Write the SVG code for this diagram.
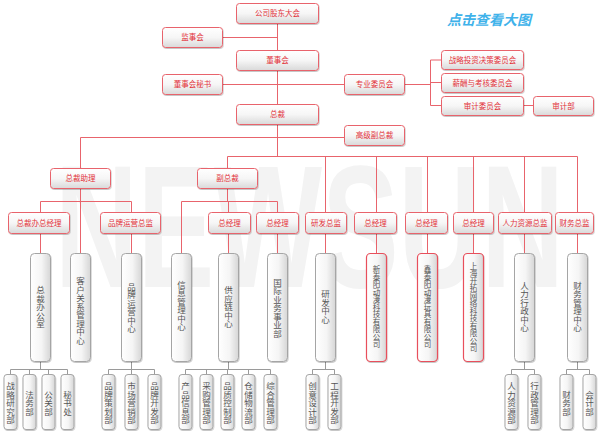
<svg xmlns="http://www.w3.org/2000/svg" width="600" height="432" viewBox="0 0 600 432">
<defs>
<linearGradient id="g" x1="0" y1="0" x2="0" y2="1"><stop offset="0" stop-color="#ffffff"/><stop offset="0.5" stop-color="#f6f6f6"/><stop offset="1" stop-color="#d9d9d9"/></linearGradient>
<linearGradient id="g2" x1="0" y1="0" x2="1" y2="0"><stop offset="0" stop-color="#ffffff"/><stop offset="0.55" stop-color="#f5f5f5"/><stop offset="1" stop-color="#d6d6d6"/></linearGradient>
<filter id="sh" x="-20%" y="-20%" width="140%" height="140%"><feDropShadow dx="0.6" dy="1" stdDeviation="0.7" flood-color="#000" flood-opacity="0.22"/></filter>
<style>
.rb{fill:url(#g);stroke:#e8646c;stroke-width:1;filter:url(#sh)}
.rv{fill:url(#g2);stroke:#e8505c;stroke-width:1.2;filter:url(#sh)}
.gb{fill:url(#g2);stroke:#a5a5a5;stroke-width:1;filter:url(#sh)}
.rt{font-family:"Noto Sans CJK SC","Noto Sans",sans-serif;font-size:7.5px;fill:#e2323a;text-anchor:middle}
.vt{font-family:"Noto Sans CJK SC","Noto Sans",sans-serif;font-size:8.5px;fill:#555;text-anchor:middle;writing-mode:vertical-rl}
.vs{font-size:7.5px}
.ln{stroke:#e8646c;stroke-width:1;fill:none}
.lg{stroke:#9a9a9a;stroke-width:1;fill:none}
</style>
</defs>
<rect width="600" height="432" fill="#ffffff"/>
<text x="55" y="287" font-family="Liberation Sans,Arial,sans-serif" font-weight="bold" font-size="175" fill="#f3f3f3" textLength="509" lengthAdjust="spacingAndGlyphs">NEWSUN</text>
<text x="489" y="25" font-family="Noto Sans CJK SC,sans-serif" font-weight="bold" font-style="italic" font-size="14" fill="#3fb2ea" text-anchor="middle">点击查看大图</text>

<g id="connectors">
<path class="ln" d="M277.5 23V104M222 37.5H277.5M222 84.5H344M404 84.5H430.5M430.5 60V105.5M430.5 60H441M430.5 82.5H441M430.5 105.5H441M523 105.5H533"/>
<path class="ln" d="M277.5 124V156.5M80.5 137.5H344M80.5 137.5V168M227.5 156.5H577.5M227.5 156.5V168M325.5 156.5V253M376.5 156.5V253M427.5 156.5V253M473.5 156.5V253M524.5 156.5V253M577.5 156.5V253"/>
<path class="ln" d="M80.5 188V253M40.5 201.5H131.5M40.5 201.5V212M131.5 201.5V212M40.5 233V253M131.5 233V253"/>
<path class="ln" d="M227.5 188V201.5M181.5 201.5H277.5M181.5 201.5V253M228.5 201.5V212M277.5 201.5V212M228.5 233V253M277.5 233V253"/>
<path class="lg" d="M40.5 361V369.5M10.5 369.5H67.5M10.5 369.5V374M29.5 369.5V374M48.5 369.5V374M67.5 369.5V374"/>
<path class="lg" d="M131.5 361V369.5M108.5 369.5H154.5M108.5 369.5V374M131.5 369.5V374M154.5 369.5V374"/>
<path class="lg" d="M228.5 361V369.5M185.5 369.5H270.5M185.5 369.5V374M206.5 369.5V374M227.5 369.5V374M248.5 369.5V374M270.5 369.5V374"/>
<path class="lg" d="M325.5 361V369.5M312.5 369.5H334.5M312.5 369.5V374M334.5 369.5V374"/>
<path class="lg" d="M524.5 361V369.5M511.5 369.5H534.5M511.5 369.5V374M534.5 369.5V374"/>
<path class="lg" d="M577.5 361V369.5M566.5 369.5H589.5M566.5 369.5V374M589.5 369.5V374"/>
</g>

<g id="n-gdh"><rect class="rb" x="236.5" y="3.5" width="82" height="20" rx="3"/><text class="rt" x="277.5" y="16.3">公司股东大会</text></g>
<g id="n-jsh"><rect class="rb" x="162.5" y="27.5" width="60" height="20" rx="3"/><text class="rt" x="192.5" y="40.3">监事会</text></g>
<g id="n-dsh"><rect class="rb" x="236.5" y="50.5" width="82" height="20" rx="3"/><text class="rt" x="277.5" y="63.3">董事会</text></g>
<g id="n-dshms"><rect class="rb" x="162.5" y="74.5" width="60" height="20" rx="3"/><text class="rt" x="192.5" y="87.3">董事会秘书</text></g>
<g id="n-zywyh"><rect class="rb" x="344.5" y="74.5" width="60" height="20" rx="3"/><text class="rt" x="374.5" y="87.3">专业委员会</text></g>
<g id="n-zltz"><rect class="rb" x="441.5" y="50.5" width="82" height="19" rx="3"/><text class="rt" x="482.5" y="62.8">战略投资决策委员会</text></g>
<g id="n-xckh"><rect class="rb" x="441.5" y="73.5" width="82" height="19" rx="3"/><text class="rt" x="482.5" y="85.8">薪酬与考核委员会</text></g>
<g id="n-sjwyh"><rect class="rb" x="441.5" y="96.5" width="82" height="19" rx="3"/><text class="rt" x="482.5" y="108.8">审计委员会</text></g>
<g id="n-sjb"><rect class="rb" x="533.5" y="96.5" width="60" height="19" rx="3"/><text class="rt" x="563.5" y="108.8">审计部</text></g>
<g id="n-zc"><rect class="rb" x="236.5" y="104.5" width="82" height="20" rx="3"/><text class="rt" x="277.5" y="117.3">总裁</text></g>
<g id="n-gjfzc"><rect class="rb" x="344.5" y="125.5" width="60" height="20" rx="3"/><text class="rt" x="374.5" y="138.3">高级副总裁</text></g>
<g id="n-zczl"><rect class="rb" x="50.5" y="168.5" width="60" height="20" rx="3"/><text class="rt" x="80.5" y="181.3">总裁助理</text></g>
<g id="n-fzc"><rect class="rb" x="197.5" y="168.5" width="60" height="20" rx="3"/><text class="rt" x="227.5" y="181.3">副总裁</text></g>

<g id="n-zcbzjl"><rect class="rb" x="8.5" y="212.5" width="61" height="21" rx="3"/><text class="rt" x="39" y="225.8">总裁办总经理</text></g>
<g id="n-ppyyzj"><rect class="rb" x="100.5" y="212.5" width="60" height="21" rx="3"/><text class="rt" x="130.5" y="225.8">品牌运营总监</text></g>
<g id="n-zjl1"><rect class="rb" x="208.5" y="212.5" width="42" height="21" rx="3"/><text class="rt" x="229.5" y="225.8">总经理</text></g>
<g id="n-zjl2"><rect class="rb" x="256.5" y="212.5" width="42" height="21" rx="3"/><text class="rt" x="277.5" y="225.8">总经理</text></g>
<g id="n-yfzj"><rect class="rb" x="305.5" y="212.5" width="41" height="21" rx="3"/><text class="rt" x="326" y="225.8">研发总监</text></g>
<g id="n-zjl3"><rect class="rb" x="354.5" y="212.5" width="42" height="21" rx="3"/><text class="rt" x="375.5" y="225.8">总经理</text></g>
<g id="n-zjl4"><rect class="rb" x="405.5" y="212.5" width="42" height="21" rx="3"/><text class="rt" x="426.5" y="225.8">总经理</text></g>
<g id="n-zjl5"><rect class="rb" x="453.5" y="212.5" width="40" height="21" rx="3"/><text class="rt" x="473.5" y="225.8">总经理</text></g>
<g id="n-rlzyzj"><rect class="rb" x="498.5" y="212.5" width="53" height="21" rx="3"/><text class="rt" x="525" y="225.8">人力资源总监</text></g>
<g id="n-cwzj"><rect class="rb" x="555.5" y="212.5" width="38" height="21" rx="3"/><text class="rt" x="574.5" y="225.8">财务总监</text></g>

<g id="n-zcbgs"><rect class="gb" x="30.5" y="253.5" width="20" height="108" rx="4"/><text class="vt" x="40.5" y="307">总裁办公室</text></g>
<g id="n-khgx"><rect class="gb" x="70.5" y="253.5" width="20" height="108" rx="4"/><text class="vt" x="80.5" y="311">客户关系管理中心</text></g>
<g id="n-ppyy"><rect class="gb" x="121.5" y="253.5" width="20" height="108" rx="4"/><text class="vt" x="131.5" y="308">品牌运营中心</text></g>
<g id="n-xxgl"><rect class="gb" x="171.5" y="253.5" width="20" height="108" rx="4"/><text class="vt" x="181.5" y="306">信息管理中心</text></g>
<g id="n-gyl"><rect class="gb" x="218.5" y="253.5" width="20" height="108" rx="4"/><text class="vt" x="228.5" y="307">供应链中心</text></g>
<g id="n-gjyw"><rect class="gb" x="267.5" y="253.5" width="20" height="108" rx="4"/><text class="vt" x="277.5" y="308">国际业务事业部</text></g>
<g id="n-yfzx"><rect class="gb" x="315.5" y="253.5" width="20" height="108" rx="4"/><text class="vt" x="325.5" y="307">研发中心</text></g>
<g id="n-xty"><rect class="rv" x="366.5" y="253.5" width="20" height="108" rx="4"/><text class="vt vs" x="376.5" y="307">新泰阳动漫科技有限公司</text></g>
<g id="n-xinty"><rect class="rv" x="417.5" y="253.5" width="20" height="108" rx="4"/><text class="vt vs" x="427.5" y="307">鑫泰阳动漫玩具有限公司</text></g>
<g id="n-shkt"><rect class="rv" x="463.5" y="253.5" width="20" height="108" rx="4"/><text class="vt vs" x="473.5" y="307">上海开拓网络科技有限公司</text></g>
<g id="n-rlxz"><rect class="gb" x="514.5" y="253.5" width="20" height="108" rx="4"/><text class="vt" x="524.5" y="307">人力行政中心</text></g>
<g id="n-cwgl"><rect class="gb" x="567.5" y="253.5" width="20" height="108" rx="4"/><text class="vt" x="577.5" y="307">财务管理中心</text></g>

<g id="n-zlyj"><rect class="gb" x="4" y="374.5" width="13" height="55" rx="3"/><text class="vt" x="10.5" y="403">战略研究部</text></g>
<g id="n-fwb"><rect class="gb" x="23" y="374.5" width="13" height="55" rx="3"/><text class="vt" x="29.5" y="403">法务部</text></g>
<g id="n-ggb"><rect class="gb" x="42" y="374.5" width="13" height="55" rx="3"/><text class="vt" x="48.5" y="403">公关部</text></g>
<g id="n-msc"><rect class="gb" x="61" y="374.5" width="13" height="55" rx="3"/><text class="vt" x="67.5" y="403">秘书处</text></g>
<g id="n-ppch"><rect class="gb" x="102" y="374.5" width="13" height="55" rx="3"/><text class="vt" x="108.5" y="403">品牌策划部</text></g>
<g id="n-scyx"><rect class="gb" x="125" y="374.5" width="13" height="55" rx="3"/><text class="vt" x="131.5" y="403">市场营销部</text></g>
<g id="n-ppkf"><rect class="gb" x="148" y="374.5" width="13" height="55" rx="3"/><text class="vt" x="154.5" y="403">品牌开发部</text></g>
<g id="n-cpxx"><rect class="gb" x="179" y="374.5" width="13" height="55" rx="3"/><text class="vt" x="185.5" y="403">产品信息部</text></g>
<g id="n-cggl"><rect class="gb" x="200" y="374.5" width="13" height="55" rx="3"/><text class="vt" x="206.5" y="403">采购管理部</text></g>
<g id="n-pzkz"><rect class="gb" x="221" y="374.5" width="13" height="55" rx="3"/><text class="vt" x="227.5" y="403">品质控制部</text></g>
<g id="n-ccwl"><rect class="gb" x="242" y="374.5" width="13" height="55" rx="3"/><text class="vt" x="248.5" y="403">仓储物流部</text></g>
<g id="n-zhgl"><rect class="gb" x="264" y="374.5" width="13" height="55" rx="3"/><text class="vt" x="270.5" y="403">综合管理部</text></g>
<g id="n-cysj"><rect class="gb" x="306" y="374.5" width="13" height="55" rx="3"/><text class="vt" x="312.5" y="403">创意设计部</text></g>
<g id="n-gckf"><rect class="gb" x="328" y="374.5" width="13" height="55" rx="3"/><text class="vt" x="334.5" y="403">工程开发部</text></g>
<g id="n-rlzy"><rect class="gb" x="505" y="374.5" width="13" height="55" rx="3"/><text class="vt" x="511.5" y="403">人力资源部</text></g>
<g id="n-xzgl"><rect class="gb" x="528" y="374.5" width="13" height="55" rx="3"/><text class="vt" x="534.5" y="403">行政管理部</text></g>
<g id="n-cwb"><rect class="gb" x="560" y="374.5" width="13" height="55" rx="3"/><text class="vt" x="566.5" y="403">财务部</text></g>
<g id="n-kjb"><rect class="gb" x="583" y="374.5" width="13" height="55" rx="3"/><text class="vt" x="589.5" y="403">会计部</text></g>
</svg>
